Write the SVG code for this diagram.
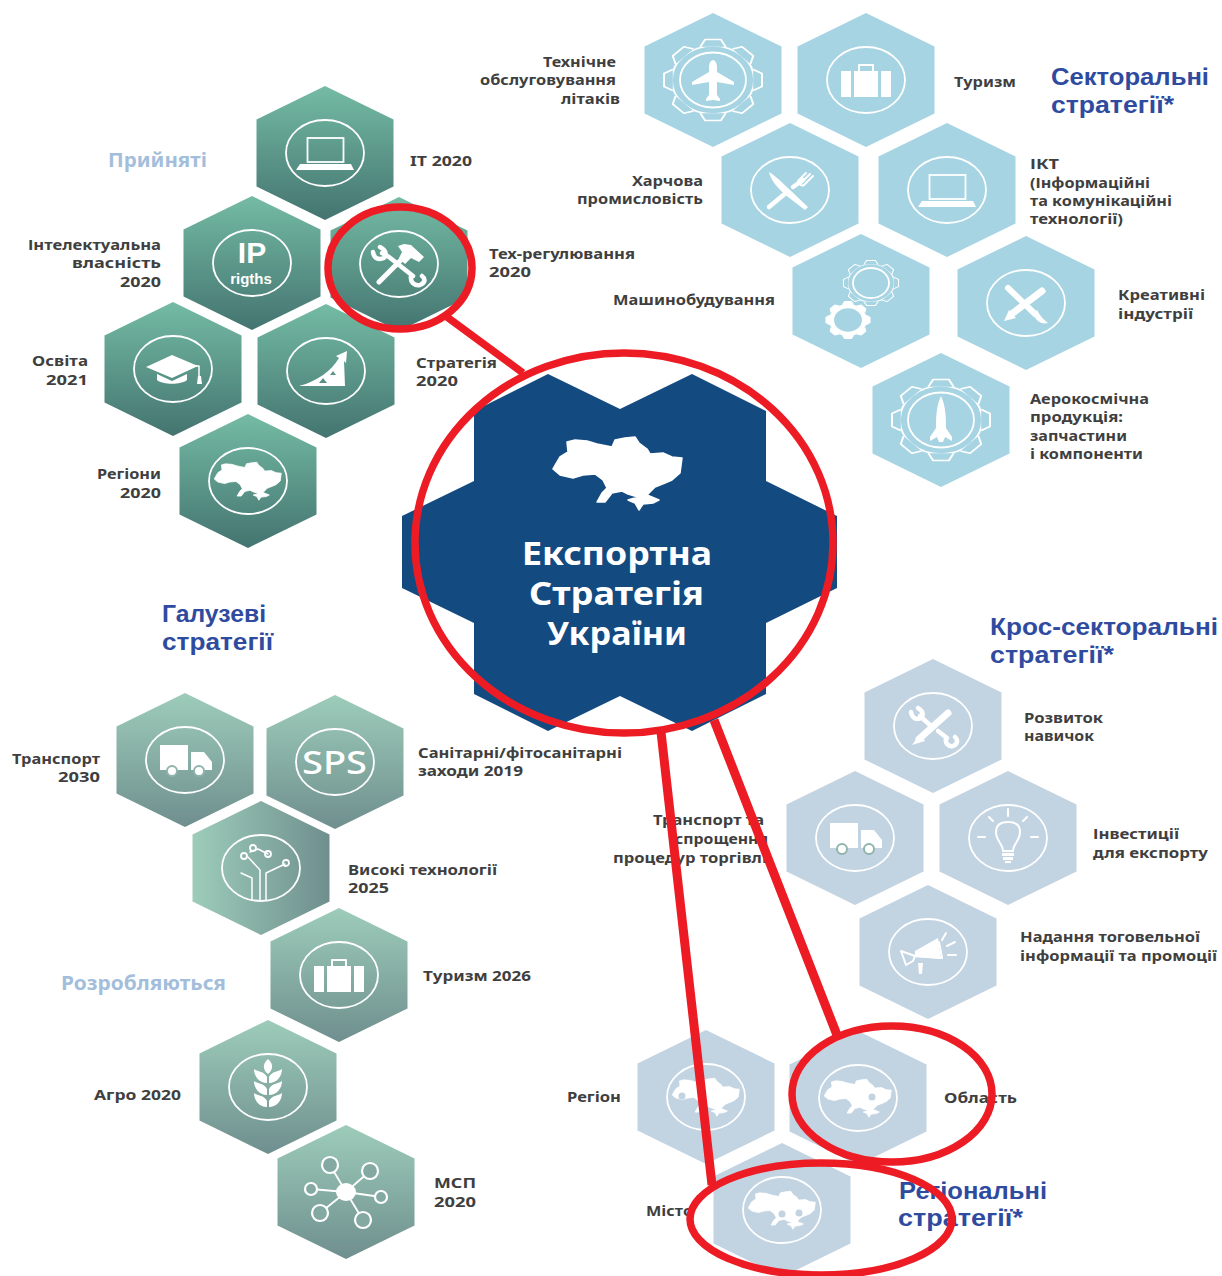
<svg xmlns="http://www.w3.org/2000/svg" width="1222" height="1276" viewBox="0 0 1222 1276">
<style>
text{font-family:"Noto Sans","Liberation Sans",sans-serif;font-weight:700}
.t{font-size:14.5px;fill:#3f3f3f}
.h{font-family:"Liberation Sans",sans-serif;font-size:24px;fill:#2f4b9f}
.s{font-size:19px;fill:#a3bedb}
.c{font-size:32px;fill:#fff}
.ip{font-family:"Liberation Sans",sans-serif;fill:#fff}
.g1{fill:url(#gr1)}.g2{fill:url(#gr2)}.g3{fill:url(#gr3)}.b{fill:#a6d4e3}.p{fill:#c2d3e2}
.o{fill:none;stroke:#fff;stroke-width:1.800}
.w{fill:#fff}
.k{fill:none;stroke:#fff;stroke-linecap:round;stroke-linejoin:round}
.r{fill:none;stroke:#ed1c24;stroke-width:7.500}
.r2{fill:none;stroke:#ed1c24;stroke-width:9}
</style>
<defs>
<linearGradient id="gr1" x1="0" y1="0" x2="0" y2="1"><stop offset="0" stop-color="#74bba4"/><stop offset="1" stop-color="#447470"/></linearGradient>
<linearGradient id="gr2" x1="0" y1="0" x2="0" y2="1"><stop offset="0" stop-color="#9dccba"/><stop offset="1" stop-color="#6f8f8e"/></linearGradient>
<linearGradient id="gr3" x1="0" y1="0" x2="1" y2="0"><stop offset="0" stop-color="#9dccba"/><stop offset="1" stop-color="#6f8f8e"/></linearGradient>
<polygon id="hex" points="0,-67 68.500,-33.500 68.500,33.500 0,67 -68.500,33.500 -68.500,-33.500"/>
<ellipse id="ring" class="o" rx="39" ry="33"/>
<path id="ua" stroke="#fff" stroke-width="1.500" stroke-linejoin="round" d="M-51-31-43-33-31-32-21-29-6-26-3-33 7-35 17-36 21-30 29-24 32-19 45-20 54-16 64-15 62 0 54 7 47 10 37 14 29 22 41 27 35 30 25 31 21 37 17 30 10 27 20 24 10 21 4 18-6 20-13 29-21 29-16 20-11 15-15 7-23 1-35 2-45 5-58 2-65-4-58-16-50-21Z"/>
<g id="laptop"><use href="#ring"/><rect class="o" x="-17.500" y="-15" width="36" height="24" stroke-width="3"/><path class="w" d="M-25 11H26L29 17H-29Z"/></g>
<g id="case"><use href="#ring"/><path class="w" d="M-25-9H-15V17H-25ZM-12-9H12V17H-12ZM15-9H25V17H15Z"/><path class="k" stroke-width="2" d="M-7-9V-15H7V-9"/></g>
<g id="truck"><use href="#ring"/><path class="w" d="M-25-15H3V10H-25ZM6-8H19L27 2V10H6Z"/><circle cx="-13" cy="11" r="5" class="w" stroke="#8fb3ad" stroke-width="2"/><circle cx="14" cy="11" r="5" class="w" stroke="#8fb3ad" stroke-width="2"/></g>
<g id="mapicon"><use href="#ring"/><use href="#ua" class="w" transform="scale(.52)"/></g>
<path id="tooth" class="b" stroke="#fff" stroke-width="2" stroke-linejoin="round" d="M-13-41-8-50H8L13-41"/>
<path id="toothw" class="w" d="M-14-40-8-50H8L14-40Z"/>
<g id="gear"><circle r="42" fill="none" stroke="#fff" stroke-width="2"/><use href="#tooth"/><use href="#tooth" transform="rotate(45)"/><use href="#tooth" transform="rotate(90)"/><use href="#tooth" transform="rotate(135)"/><use href="#tooth" transform="rotate(180)"/><use href="#tooth" transform="rotate(225)"/><use href="#tooth" transform="rotate(270)"/><use href="#tooth" transform="rotate(315)"/></g>
</defs>
<rect width="1222" height="1276" fill="#fff"/>

<g id="center-node">
<polygon fill="#134a80" points="548,374 620,409 692,374 766,411 766,481 837,516 837,588 766,623 766,694 692,731 620,696 548,731 474,694 474,623 402,588 402,516 474,481 474,411"/>
<use href="#ua" class="w" x="618" y="473"/>
<text class="c" x="522" y="565" textLength="190" lengthAdjust="spacingAndGlyphs">Експортна</text>
<text class="c" x="529" y="605" textLength="175" lengthAdjust="spacingAndGlyphs">Стратегія</text>
<text class="c" x="547" y="645" textLength="140" lengthAdjust="spacingAndGlyphs">України</text>
</g>

<g id="heading-adopted"><text class="s" x="108" y="167" textLength="99" lengthAdjust="spacingAndGlyphs">Прийняті</text></g>
<g id="n-it"><use href="#hex" class="g1" x="325" y="153"/><use href="#laptop" x="325" y="153"/><text class="t" x="410" y="166" textLength="62" lengthAdjust="spacingAndGlyphs">IT 2020</text></g>
<g id="n-ip"><use href="#hex" class="g1" x="252" y="263"/><use href="#ring" x="252" y="263"/>
<text class="ip" x="252" y="263" text-anchor="middle" font-size="30">IP</text><text class="ip" x="251" y="284" text-anchor="middle" font-size="15">rigths</text>
<text class="t" x="28" y="250" textLength="133" lengthAdjust="spacingAndGlyphs">Інтелектуальна</text><text class="t" x="72" y="268" textLength="89" lengthAdjust="spacingAndGlyphs">власність</text><text class="t" x="120" y="287" textLength="41" lengthAdjust="spacingAndGlyphs">2020</text></g>
<g id="n-tech"><use href="#hex" class="g1" x="399" y="264"/><g transform="translate(399,264)"><use href="#ring"/><path class="k" stroke-width="5" d="M-20 18 8-10"/><path class="w" d="M-1-18 5-20 12-19 25-7 20-2 12-6 6 0 0-6 3-12Z"/><path class="k" stroke-width="4.500" d="M-17-11-10-7 14 12M-26-12C-25-5-20-4-15-6-12-9-13-14-19-17M21 21C26 19 27 15 23 12M12 12C11 18 15 22 21 21"/></g>
<text class="t" x="489" y="259" textLength="146" lengthAdjust="spacingAndGlyphs">Тех-регулювання</text><text class="t" x="489" y="277" textLength="42" lengthAdjust="spacingAndGlyphs">2020</text></g>
<g id="n-edu"><use href="#hex" class="g1" x="173" y="369"/><g transform="translate(173,369)"><use href="#ring"/><path class="w" d="M-27-2-1-14 25-3-1 9ZM-16 5-1 12 14 5V11C8 16-10 16-16 11Z"/><path class="k" stroke-width="1.500" d="M0-3 26-3V8"/><path class="w" d="M25 7H28L29 15H24Z"/></g>
<text class="t" x="32" y="366" textLength="56" lengthAdjust="spacingAndGlyphs">Освіта</text><text class="t" x="46" y="385" textLength="42" lengthAdjust="spacingAndGlyphs">2021</text></g>
<g id="n-strategy"><use href="#hex" class="g1" x="326" y="371"/><g transform="translate(326,371)"><use href="#ring"/><path class="w" d="M-27 15C-8 10 5 0 13-13L10-15 21-20 20-8 18-10 19 15ZM-7 12H1L-3 7ZM4 4H10L7 0Z" fill-rule="evenodd"/></g>
<text class="t" x="416" y="368" textLength="81" lengthAdjust="spacingAndGlyphs">Стратегія</text><text class="t" x="416" y="386" textLength="42" lengthAdjust="spacingAndGlyphs">2020</text></g>
<g id="n-regions"><use href="#hex" class="g1" x="248" y="481"/><use href="#mapicon" x="248" y="481"/>
<text class="t" x="97" y="479" textLength="64" lengthAdjust="spacingAndGlyphs">Регіони</text><text class="t" x="120" y="498" textLength="41" lengthAdjust="spacingAndGlyphs">2020</text></g>

<g id="heading-sectoral"><text class="h" x="1051" y="85" textLength="158" lengthAdjust="spacingAndGlyphs">Секторальні</text><text class="h" x="1051" y="113" textLength="123" lengthAdjust="spacingAndGlyphs">стратегії*</text></g>
<g id="n-aircraft"><use href="#hex" class="b" x="713" y="80"/><g transform="translate(713,80)"><g transform="scale(.98,.81)"><use href="#gear"/></g><ellipse class="o" rx="33" ry="27.500"/><path class="w" d="M-4-14C-3-22 3-22 4-14V-8L21 2V5L4 2V15L7 19V21L0 20-7 21V19L-4 15V2L-21 5V2L-4-8Z"/></g>
<text class="t" x="543" y="67" textLength="73" lengthAdjust="spacingAndGlyphs">Технічне</text><text class="t" x="480" y="85" textLength="136" lengthAdjust="spacingAndGlyphs">обслуговування</text><text class="t" x="561" y="104" textLength="59" lengthAdjust="spacingAndGlyphs">літаків</text></g>
<g id="n-tourism"><use href="#hex" class="b" x="866" y="80"/><use href="#case" x="866" y="80"/><text class="t" x="954" y="87" textLength="62" lengthAdjust="spacingAndGlyphs">Туризм</text></g>
<g id="n-food"><use href="#hex" class="b" x="790" y="190"/><g transform="translate(790,190)"><use href="#ring"/><path class="w" d="M-21-18C-14-14-2-2 18 17L15 20-2 7C-14-3-19-10-21-18Z"/><path class="k" stroke-width="4.500" d="M-21 17-3 2M3-3 13-10"/><path class="k" stroke-width="2" d="M8-9 16-17M11-7 20-16M14-5 23-14M8-9C9-5 12-4 14-5"/></g>
<text class="t" x="632" y="186" textLength="71" lengthAdjust="spacingAndGlyphs">Харчова</text><text class="t" x="577" y="204" textLength="126" lengthAdjust="spacingAndGlyphs">промисловість</text></g>
<g id="n-ict"><use href="#hex" class="b" x="947" y="190"/><use href="#laptop" x="947" y="190"/>
<text class="t" x="1030" y="169" textLength="29" lengthAdjust="spacingAndGlyphs">ІКТ</text><text class="t" x="1030" y="188" textLength="120" lengthAdjust="spacingAndGlyphs">(Інформаційні</text><text class="t" x="1030" y="206" textLength="142" lengthAdjust="spacingAndGlyphs">та комунікаційні</text><text class="t" x="1030" y="224" textLength="93" lengthAdjust="spacingAndGlyphs">технології)</text></g>
<g id="n-machinery"><use href="#hex" class="b" x="861" y="301"/><g transform="translate(861,301)"><g transform="translate(10,-18) scale(.55,.45)"><use href="#gear"/></g><ellipse class="o" cx="10" cy="-18" rx="18" ry="15"/>
<g transform="translate(-13,19) scale(.45,.38)"><use href="#toothw"/><use href="#toothw" transform="rotate(45)"/><use href="#toothw" transform="rotate(90)"/><use href="#toothw" transform="rotate(135)"/><use href="#toothw" transform="rotate(180)"/><use href="#toothw" transform="rotate(225)"/><use href="#toothw" transform="rotate(270)"/><use href="#toothw" transform="rotate(315)"/><circle r="36.500" fill="none" stroke="#fff" stroke-width="11"/></g></g>
<text class="t" x="613" y="305" textLength="162" lengthAdjust="spacingAndGlyphs">Машинобудування</text></g>
<g id="n-creative"><use href="#hex" class="b" x="1026" y="303"/><g transform="translate(1026,303)"><use href="#ring"/><path class="k" stroke-width="6" d="M-18-15 9 11"/><path class="w" d="M7 10 11 7C14 13 18 17 22 20 15 22 9 17 7 10Z"/><path class="k" stroke-width="7" d="M-13 10 16-12"/><path class="w" d="M-17 7-10 15-22 18Z"/></g>
<text class="t" x="1118" y="300" textLength="87" lengthAdjust="spacingAndGlyphs">Креативні</text><text class="t" x="1118" y="319" textLength="75" lengthAdjust="spacingAndGlyphs">індустрії</text></g>
<g id="n-aero"><use href="#hex" class="b" x="941" y="420"/><g transform="translate(941,420)"><g transform="scale(.98,.81)"><use href="#gear"/></g><ellipse class="o" rx="33" ry="27.500"/><path class="w" d="M0-24C5-14 5 0 5 8L11 17V21L4 17 2 22H-2L-4 17-11 21V17L-5 8C-5 0-5-14 0-24Z"/></g>
<text class="t" x="1030" y="404" textLength="119" lengthAdjust="spacingAndGlyphs">Аерокосмічна</text><text class="t" x="1030" y="422" textLength="93" lengthAdjust="spacingAndGlyphs">продукція:</text><text class="t" x="1030" y="441" textLength="97" lengthAdjust="spacingAndGlyphs">запчастини</text><text class="t" x="1030" y="459" textLength="113" lengthAdjust="spacingAndGlyphs">і компоненти</text></g>

<g id="heading-branch"><text class="h" x="162" y="622" textLength="104" lengthAdjust="spacingAndGlyphs">Галузеві</text><text class="h" x="162" y="650" textLength="111" lengthAdjust="spacingAndGlyphs">стратегії</text></g>
<g id="heading-dev"><text class="s" x="61" y="990" textLength="165" lengthAdjust="spacingAndGlyphs">Розробляються</text></g>
<g id="n-transport"><use href="#hex" class="g2" x="185" y="760"/><use href="#truck" x="185" y="760"/><text class="t" x="12" y="764" textLength="88" lengthAdjust="spacingAndGlyphs">Транспорт</text><text class="t" x="58" y="782" textLength="42" lengthAdjust="spacingAndGlyphs">2030</text></g>
<g id="n-sps"><use href="#hex" class="g2" x="335" y="762"/><use href="#ring" x="335" y="762"/><text x="302" y="774" font-size="33" textLength="65" lengthAdjust="spacingAndGlyphs" style="font-weight:500" fill="#fff">SPS</text>
<text class="t" x="418" y="758" textLength="204" lengthAdjust="spacingAndGlyphs">Санітарні/фітосанітарні</text><text class="t" x="418" y="776" textLength="105" lengthAdjust="spacingAndGlyphs">заходи 2019</text></g>
<g id="n-hitech"><use href="#hex" class="g3" x="261" y="868"/><g transform="translate(261,868)"><use href="#ring"/><path class="k" stroke-width="1.500" d="M-9 32V10L-20 5M-1 32V2L-13-11M5 32V5L24-4M-11-16-3-19 7-14"/><circle class="o" stroke-width="1.500" cx="-17" cy="-12" r="3"/><circle class="o" stroke-width="1.500" cx="-8" cy="-20" r="3"/><circle class="o" stroke-width="1.500" cx="7" cy="-14" r="3"/><circle class="o" stroke-width="1.500" cx="25" cy="-5" r="3"/></g>
<text class="t" x="348" y="875" textLength="149" lengthAdjust="spacingAndGlyphs">Високі технології</text><text class="t" x="348" y="893" textLength="41" lengthAdjust="spacingAndGlyphs">2025</text></g>
<g id="n-tourism2026"><use href="#hex" class="g2" x="339" y="975"/><use href="#case" x="339" y="975"/><text class="t" x="423" y="981" textLength="108" lengthAdjust="spacingAndGlyphs">Туризм 2026</text></g>
<g id="n-agro"><use href="#hex" class="g2" x="268" y="1087"/><g transform="translate(268,1087)"><use href="#ring"/><path class="w" d="M0-28C6-23 5-17 0-13-5-17-6-23 0-28ZM-1-10C-4-16-10-15-14-18-14-11-9-4-1-4ZM1-10C4-16 10-15 14-18 14-11 9-4 1-4ZM-1 2C-4-4-10-3-14-6-14 1-9 8-1 8ZM1 2C4-4 10-3 14-6 14 1 9 8 1 8ZM-1 14C-4 8-10 9-14 6-14 13-9 20-1 20ZM1 14C4 8 10 9 14 6 14 13 9 20 1 20Z"/></g>
<text class="t" x="94" y="1100" textLength="87" lengthAdjust="spacingAndGlyphs">Агро 2020</text></g>
<g id="n-sme"><use href="#hex" class="g2" x="346" y="1192"/><g transform="translate(346,1192)"><path class="k" stroke-width="1.800" d="M0 0-16-27M0 0 24-21M0 0-35-3M0 0 35 5M0 0-26 21M0 0 17 28"/><ellipse class="w" rx="10" ry="9"/><g fill="#83a9a2" stroke="#fff" stroke-width="2.200"><circle cx="-16" cy="-27" r="8"/><circle cx="24" cy="-21" r="8"/><circle cx="-35" cy="-3" r="6"/><circle cx="35" cy="5" r="6"/><circle cx="-26" cy="21" r="8"/><circle cx="17" cy="28" r="8"/></g></g>
<text class="t" x="434" y="1188" textLength="42" lengthAdjust="spacingAndGlyphs">МСП</text><text class="t" x="434" y="1207" textLength="42" lengthAdjust="spacingAndGlyphs">2020</text></g>

<g id="heading-cross"><text class="h" x="990" y="635" textLength="228" lengthAdjust="spacingAndGlyphs">Крос-секторальні</text><text class="h" x="990" y="663" textLength="124" lengthAdjust="spacingAndGlyphs">стратегії*</text></g>
<g id="n-skills"><use href="#hex" class="p" x="933" y="726"/><g transform="translate(933,726)"><use href="#ring"/><path class="k" stroke-width="7" d="M-14 13 15-13"/><path class="w" d="M-13 8-8 15-21 19Z"/><path class="k" stroke-width="4.500" d="M-13-10-2 0M5 5 14 12M-22-14C-21-7-16-6-12-8-9-11-10-15-15-18M20 20C25 18 25 14 22 11M13 12C12 17 15 21 20 20"/></g>
<text class="t" x="1024" y="723" textLength="79" lengthAdjust="spacingAndGlyphs">Розвиток</text><text class="t" x="1024" y="741" textLength="70" lengthAdjust="spacingAndGlyphs">навичок</text></g>
<g id="n-trade"><use href="#hex" class="p" x="855" y="838"/><use href="#truck" x="855" y="838"/><text class="t" x="653" y="825" textLength="111" lengthAdjust="spacingAndGlyphs">Транспорт та</text><text class="t" x="675" y="844" textLength="93" lengthAdjust="spacingAndGlyphs">спрощення</text><text class="t" x="613" y="863" textLength="154" lengthAdjust="spacingAndGlyphs">процедур торгівлі</text></g>
<g id="n-invest"><use href="#hex" class="p" x="1008" y="838"/><g transform="translate(1008,838)"><use href="#ring"/><path class="k" stroke-width="2" d="M-5 13C-5 6-12 3-12-6-12-13-7-16 0-16 7-16 12-13 12-6 12 3 5 6 5 13ZM0-29V-22M-19-21-15-17M19-21 15-17M-30-1H-23M30-1H23"/><path class="w" d="M-6 15H6V18H-6ZM-5 19H5V22H-5ZM-3 23H3V25H-3Z"/></g>
<text class="t" x="1093" y="839" textLength="86" lengthAdjust="spacingAndGlyphs">Інвестиції</text><text class="t" x="1093" y="858" textLength="115" lengthAdjust="spacingAndGlyphs">для експорту</text></g>
<g id="n-info"><use href="#hex" class="p" x="928" y="952"/><g transform="translate(928,952)"><use href="#ring"/><path class="k" stroke-width="2" d="M-27-1-22 13-15 9-13 4-27-1ZM-13 4 11-10 14 6-13 4"/><path class="w" d="M-13-1 10-14 13 7-13 5ZM-10 11H-5L-6 22H-9Z"/><path class="k" stroke-width="2" d="M14-12 18-19M19-6 27-10M20 3H28"/></g>
<text class="t" x="1020" y="942" textLength="180" lengthAdjust="spacingAndGlyphs">Надання тоговельної</text><text class="t" x="1020" y="961" textLength="197" lengthAdjust="spacingAndGlyphs">інформації та промоції</text></g>
<g id="n-region"><use href="#hex" class="p" x="706" y="1097"/><use href="#mapicon" x="706" y="1097"/><circle cx="682" cy="1096" r="3.500" class="p"/><text class="t" x="567" y="1102" textLength="54" lengthAdjust="spacingAndGlyphs">Регіон</text></g>
<g id="n-oblast"><use href="#hex" class="p" x="858" y="1098"/><use href="#mapicon" x="858" y="1098"/><circle cx="872" cy="1097" r="3.500" class="p"/><text class="t" x="944" y="1103" textLength="73" lengthAdjust="spacingAndGlyphs">Область</text></g>
<g id="n-city"><use href="#hex" class="p" x="782" y="1210"/><use href="#mapicon" x="782" y="1210"/><circle cx="782" cy="1214" r="3.500" class="p"/><circle cx="799" cy="1213" r="3.500" class="p"/><text class="t" x="646" y="1216" textLength="47" lengthAdjust="spacingAndGlyphs">Місто</text></g>
<g id="heading-regional"><text class="h" x="899" y="1199" textLength="148" lengthAdjust="spacingAndGlyphs">Регіональні</text><text class="h" x="898" y="1226" textLength="125" lengthAdjust="spacingAndGlyphs">стратегії*</text></g>

<g id="connectors">
<ellipse class="r" cx="624" cy="543" rx="209" ry="190"/>
<ellipse class="r" cx="400" cy="268" rx="72" ry="61"/>
<ellipse class="r" cx="892" cy="1094" rx="100" ry="68"/>
<ellipse class="r" cx="821" cy="1219" rx="131" ry="56"/>
<path class="r" d="M447 317 523 373"/>
<path class="r2" d="M661 732 712 1185M714 720 837 1035"/>
</g>
</svg>
